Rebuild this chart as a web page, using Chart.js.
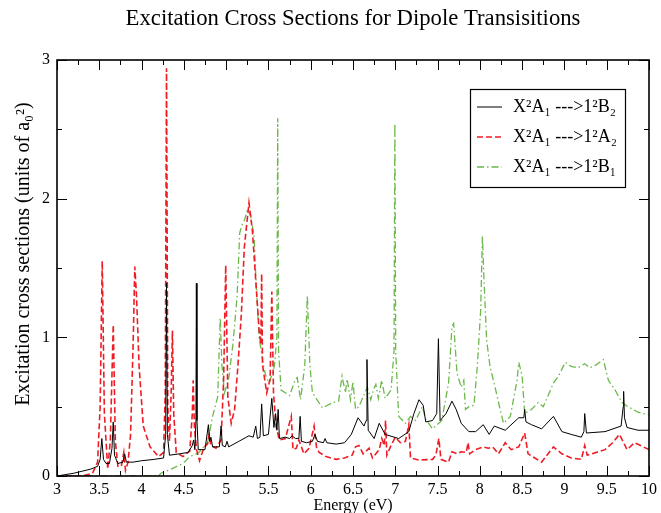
<!DOCTYPE html>
<html>
<head>
<meta charset="utf-8">
<script src="https://cdn.jsdelivr.net/npm/chart.js@4"></script>
<style>
  html, body { margin: 0; padding: 0; background: #fff; }
  #wrap { width: 661px; height: 513px; }
</style>
</head>
<body>
<div id="wrap"><canvas id="myChart" width="661" height="513"></canvas></div>
<script>
// X2A1 ---> 1 2B2 (solid black)
var b2X = [3.00, 3.20, 3.40, 3.48, 3.51, 3.53, 3.55, 3.58, 3.62, 3.65, 3.665, 3.68, 3.72, 3.78, 3.80, 3.82, 3.90, 4.00, 4.15, 4.26,
    4.285, 4.295, 4.305, 4.33, 4.45, 4.55, 4.60, 4.615, 4.63, 4.643, 4.648, 4.655, 4.67, 4.75, 4.79, 4.805, 4.82, 4.84, 4.92, 4.94,
    4.955, 4.99, 5.01, 5.03, 5.15, 5.27, 5.32, 5.35, 5.37, 5.40, 5.42, 5.44, 5.50, 5.54, 5.565, 5.585, 5.60, 5.615, 5.63, 5.70,
    5.75, 5.78, 5.82, 5.86, 5.875, 5.89, 5.95, 6.02, 6.05, 6.08, 6.15, 6.17, 6.19, 6.30, 6.40, 6.48, 6.56, 6.63, 6.655, 6.665,
    6.68, 6.75, 6.81, 6.88, 7.04, 7.16, 7.22, 7.28, 7.33, 7.36, 7.44, 7.49, 7.51, 7.53, 7.60, 7.67, 7.72, 7.78, 7.87, 7.95,
    8.04, 8.11, 8.17, 8.30, 8.46, 8.52, 8.53, 8.545, 8.61, 8.73, 8.87, 8.97, 9.08, 9.20, 9.23, 9.24, 9.26, 9.48, 9.67, 9.695,
    9.70, 9.71, 9.74, 9.87, 10.0];
var b2Y = [0.00, 0.02, 0.05, 0.07, 0.12, 0.27, 0.12, 0.09, 0.09, 0.20, 0.39, 0.15, 0.09, 0.10, 0.16, 0.10, 0.10, 0.11, 0.12, 0.13,
    0.30, 1.39, 0.30, 0.15, 0.16, 0.17, 0.22, 0.26, 0.19, 0.40, 1.39, 0.40, 0.19, 0.19, 0.37, 0.25, 0.28, 0.21, 0.21, 0.36,
    0.22, 0.21, 0.25, 0.21, 0.25, 0.29, 0.28, 0.36, 0.27, 0.28, 0.52, 0.29, 0.30, 0.56, 0.35, 0.45, 0.33, 0.48, 0.27, 0.28,
    0.27, 0.29, 0.27, 0.27, 0.43, 0.25, 0.24, 0.25, 0.30, 0.25, 0.24, 0.27, 0.24, 0.23, 0.24, 0.30, 0.42, 0.36, 0.40, 0.84,
    0.33, 0.27, 0.38, 0.30, 0.27, 0.32, 0.45, 0.55, 0.51, 0.39, 0.40, 0.45, 0.99, 0.40, 0.45, 0.54, 0.48, 0.38, 0.32, 0.32,
    0.37, 0.30, 0.36, 0.33, 0.42, 0.42, 0.48, 0.39, 0.37, 0.34, 0.43, 0.32, 0.30, 0.28, 0.32, 0.45, 0.31, 0.32, 0.36, 0.50,
    0.61, 0.42, 0.35, 0.33, 0.33];

// X2A1 ---> 1 2A2 (dashed red)
var a2X = [3.00, 3.30, 3.42, 3.48, 3.51, 3.535, 3.56, 3.60, 3.63, 3.665, 3.69, 3.72, 3.76, 3.79, 3.81, 3.84, 3.87, 3.90, 3.92, 3.94,
    3.97, 4.02, 4.10, 4.20, 4.26, 4.28, 4.295, 4.31, 4.33, 4.35, 4.365, 4.38, 4.41, 4.49, 4.57, 4.60, 4.61, 4.625, 4.65, 4.685,
    4.74, 4.78, 4.80, 4.82, 4.88, 4.94, 4.97, 4.995, 5.02, 5.06, 5.10, 5.14, 5.18, 5.215, 5.27, 5.31, 5.35, 5.39, 5.41, 5.42,
    5.43, 5.48, 5.52, 5.54, 5.56, 5.59, 5.63, 5.70, 5.77, 5.79, 5.83, 5.86, 5.92, 5.98, 6.04, 6.07, 6.10, 6.18, 6.30, 6.40,
    6.49, 6.53, 6.57, 6.62, 6.69, 6.73, 6.81, 6.84, 6.87, 6.885, 6.90, 6.95, 7.00, 7.06, 7.12, 7.16, 7.18, 7.28, 7.44, 7.48,
    7.515, 7.54, 7.63, 7.67, 7.73, 7.78, 7.84, 7.86, 7.88, 7.95, 8.04, 8.10, 8.15, 8.18, 8.22, 8.30, 8.37, 8.46, 8.53, 8.57,
    8.65, 8.73, 8.87, 8.97, 9.08, 9.20, 9.24, 9.27, 9.48, 9.57, 9.65, 9.70, 9.74, 9.83, 10.0];
var a2Y = [0.00, 0.00, 0.02, 0.10, 0.50, 1.55, 0.45, 0.05, 0.25, 1.09, 0.25, 0.07, 0.07, 0.17, 0.04, 0.10, 0.30, 0.95, 1.51, 1.30,
    0.80, 0.36, 0.21, 0.14, 0.17, 0.60, 2.94, 0.50, 0.25, 0.60, 1.05, 0.45, 0.17, 0.14, 0.18, 0.45, 0.69, 0.35, 0.19, 0.11,
    0.21, 0.23, 0.30, 0.22, 0.20, 0.26, 0.69, 1.52, 0.57, 0.38, 0.48, 0.80, 1.17, 1.65, 1.97, 1.77, 1.41, 1.05, 0.95, 1.46,
    0.80, 0.60, 0.70, 1.33, 0.60, 0.36, 0.26, 0.27, 0.43, 0.19, 0.20, 0.26, 0.16, 0.20, 0.36, 0.20, 0.17, 0.14, 0.12, 0.13,
    0.15, 0.21, 0.22, 0.16, 0.20, 0.13, 0.19, 0.27, 0.22, 0.40, 0.15, 0.22, 0.28, 0.24, 0.25, 0.37, 0.13, 0.115, 0.12, 0.15,
    0.27, 0.12, 0.10, 0.175, 0.16, 0.175, 0.17, 0.24, 0.16, 0.19, 0.21, 0.20, 0.21, 0.19, 0.16, 0.24, 0.19, 0.21, 0.31, 0.16,
    0.13, 0.10, 0.21, 0.16, 0.13, 0.12, 0.22, 0.15, 0.19, 0.24, 0.30, 0.24, 0.19, 0.24, 0.19];

// X2A1 ---> 1 2B1 (dash-dot green)
var b1X = [3.00, 4.20, 4.23, 4.35, 4.49, 4.57, 4.65, 4.685, 4.72, 4.78, 4.84, 4.90, 4.93, 4.95, 4.98, 5.03, 5.08, 5.13, 5.16, 5.18,
    5.22, 5.25, 5.29, 5.33, 5.35, 5.39, 5.44, 5.47, 5.51, 5.57, 5.60, 5.61, 5.62, 5.65, 5.75, 5.82, 5.84, 5.88, 5.93, 5.96,
    5.99, 6.02, 6.14, 6.26, 6.33, 6.37, 6.41, 6.43, 6.47, 6.50, 6.53, 6.57, 6.67, 6.71, 6.74, 6.77, 6.80, 6.84, 6.88, 6.95,
    6.985, 6.995, 7.005, 7.04, 7.12, 7.18, 7.24, 7.32, 7.36, 7.44, 7.55, 7.63, 7.67, 7.69, 7.73, 7.78, 7.81, 7.83, 7.87, 7.93,
    7.97, 8.01, 8.03, 8.05, 8.08, 8.12, 8.18, 8.24, 8.28, 8.36, 8.44, 8.46, 8.50, 8.53, 8.61, 8.69, 8.75, 8.87, 8.93, 9.01,
    9.08, 9.16, 9.24, 9.30, 9.37, 9.46, 9.52, 9.60, 9.68, 9.75, 9.87, 10.0];
var b1Y = [0.00, 0.00, 0.02, 0.05, 0.09, 0.14, 0.16, 0.175, 0.20, 0.24, 0.43, 0.57, 1.14, 0.80, 0.60, 0.70, 0.95, 1.30, 1.75, 1.80,
    1.85, 1.92, 1.88, 1.73, 1.45, 1.00, 0.80, 0.72, 0.67, 0.79, 1.00, 2.58, 0.90, 0.62, 0.58, 0.70, 0.71, 0.55, 0.80, 1.30,
    0.80, 0.60, 0.49, 0.53, 0.54, 0.72, 0.60, 0.70, 0.55, 0.68, 0.48, 0.50, 0.64, 0.55, 0.62, 0.66, 0.56, 0.69, 0.56, 0.62,
    0.90, 2.54, 0.90, 0.43, 0.38, 0.43, 0.40, 0.50, 0.41, 0.34, 0.40, 0.67, 1.08, 1.10, 0.74, 0.64, 0.69, 0.48, 0.50, 0.51,
    0.79, 1.20, 1.73, 1.40, 0.98, 0.79, 0.64, 0.48, 0.38, 0.43, 0.69, 0.82, 0.72, 0.45, 0.48, 0.53, 0.50, 0.67, 0.72, 0.82,
    0.79, 0.78, 0.81, 0.78, 0.80, 0.84, 0.69, 0.62, 0.53, 0.50, 0.46, 0.44];

var xTicks = [3, 3.5, 4, 4.5, 5, 5.5, 6, 6.5, 7, 7.5, 8, 8.5, 9, 9.5, 10];
var yTicks = [0, 1, 2, 3];
var yTitle = 'Excitation cross sections (units of a₀²)';

var serif = '"Liberation Serif", "Times New Roman", serif';

function toPoints(xs, ys) {
    var pts = [];
    for (var i = 0; i < xs.length; i++) {
        pts.push({ x: xs[i], y: ys[i] });
    }
    return pts;
}

function isLabelled(list, v) {
    for (var i = 0; i < list.length; i++) {
        if (Math.abs(list[i] - v) < 1e-6) return true;
    }
    return false;
}

// inward ticks on all four sides + frame
var framePlugin = {
    id: 'frame',
    afterDatasetsDraw: function (chart) {
        var ctx = chart.ctx,
            a = chart.chartArea,
            xs = chart.scales.x,
            ys = chart.scales.y;
        ctx.save();
        ctx.strokeStyle = '#000';
        ctx.lineWidth = 1;
        ctx.beginPath();
        xs.ticks.forEach(function (t) {
            var px = Math.round(xs.getPixelForValue(t.value)) + 0.5,
                len = isLabelled(xTicks, t.value) ? 10 : 5;
            ctx.moveTo(px, a.bottom);
            ctx.lineTo(px, a.bottom - len);
            ctx.moveTo(px, a.top);
            ctx.lineTo(px, a.top + len);
        });
        ys.ticks.forEach(function (t) {
            var py = Math.round(ys.getPixelForValue(t.value)) + 0.5,
                len = isLabelled(yTicks, t.value) ? 10 : 5;
            ctx.moveTo(a.left, py);
            ctx.lineTo(a.left + len, py);
            ctx.moveTo(a.right, py);
            ctx.lineTo(a.right - len, py);
        });
        ctx.stroke();
        ctx.lineWidth = 1.6;
        ctx.strokeRect(a.left, a.top, a.right - a.left, a.bottom - a.top);

        // y axis title, sits a little above the middle of the axis
        ctx.translate(24, (a.top + a.bottom) / 2 - 14);
        ctx.rotate(-Math.PI / 2);
        ctx.fillStyle = '#000';
        ctx.font = '20px ' + serif;
        ctx.textAlign = 'center';
        ctx.textBaseline = 'middle';
        ctx.fillText(yTitle, 0, 0);
        ctx.restore();
    }
};

// boxed legend inside the plot, top right
var legendPlugin = {
    id: 'boxLegend',
    afterDraw: function (chart) {
        var ctx = chart.ctx,
            a = chart.chartArea,
            bx = a.right - 179,
            by = a.top + 29,
            bw = 155,
            bh = 98;
        ctx.save();
        ctx.fillStyle = '#fff';
        ctx.fillRect(bx, by, bw, bh);
        ctx.strokeStyle = '#000';
        ctx.lineWidth = 1.2;
        ctx.strokeRect(bx + 0.5, by + 0.5, bw, bh);
        ctx.font = '18px ' + serif;
        ctx.textBaseline = 'middle';
        chart.data.datasets.forEach(function (ds, i) {
            var ry = by + 18 + i * 30;
            ctx.strokeStyle = ds.borderColor;
            ctx.lineWidth = ds.borderWidth;
            ctx.setLineDash(ds.borderDash || []);
            ctx.beginPath();
            ctx.moveTo(bx + 7, ry);
            ctx.lineTo(bx + 32, ry);
            ctx.stroke();
            ctx.setLineDash([]);
            ctx.fillStyle = '#000';
            ctx.fillText(ds.label, bx + 43, ry);
        });
        ctx.restore();
    }
};

var ctx = document.getElementById('myChart').getContext('2d');
var myChart = new Chart(ctx, {
    type: 'line',
    data: {
        datasets: [
            {
                label: 'X²A₁ --->1²B₂',
                data: toPoints(b2X, b2Y),
                borderColor: '#000000',
                borderWidth: 1,
                pointRadius: 0,
                tension: 0
            },
            {
                label: 'X²A₁ --->1²A₂',
                data: toPoints(a2X, a2Y),
                borderColor: '#ee1c25',
                borderWidth: 1.6,
                borderDash: [6, 3],
                pointRadius: 0,
                tension: 0
            },
            {
                label: 'X²A₁ --->1²B₁',
                data: toPoints(b1X, b1Y),
                borderColor: '#6cb84a',
                borderWidth: 1.3,
                borderDash: [7, 3, 1.5, 3],
                pointRadius: 0,
                tension: 0
            }
        ]
    },
    options: {
        responsive: false,
        animation: false,
        layout: { padding: { left: 0, right: 10, top: 0, bottom: 0 } },
        plugins: {
            legend: { display: false },
            tooltip: { enabled: false },
            title: {
                display: true,
                fullSize: false,
                text: 'Excitation Cross Sections for Dipole Transisitions',
                color: '#000',
                font: { family: serif, size: 22.7, weight: 'normal' },
                padding: { top: 5, bottom: 27.76 }
            }
        },
        scales: {
            x: {
                type: 'linear',
                min: 3,
                max: 10,
                afterFit: function (s) { s.height = 37; },
                grid: { display: false, drawTicks: false },
                border: { display: false },
                ticks: {
                    stepSize: 0.25,
                    autoSkip: false,
                    maxRotation: 0,
                    padding: 4,
                    color: '#000',
                    font: { family: serif, size: 16 },
                    callback: function (v) { return isLabelled(xTicks, v) ? String(v) : ''; }
                },
                title: {
                    display: true,
                    text: 'Energy (eV)',
                    color: '#000',
                    font: { family: serif, size: 16 },
                    padding: { top: 0, bottom: -2 }
                }
            },
            y: {
                min: 0,
                max: 3,
                afterFit: function (s) { s.width = 57; },
                grid: { display: false, drawTicks: false },
                border: { display: false },
                ticks: {
                    stepSize: 0.5,
                    autoSkip: false,
                    padding: 7,
                    color: '#000',
                    font: { family: serif, size: 16 },
                    callback: function (v) { return isLabelled(yTicks, v) ? String(v) : ''; }
                }
            }
        }
    },
    plugins: [framePlugin, legendPlugin]
});
</script>
</body>
</html>
